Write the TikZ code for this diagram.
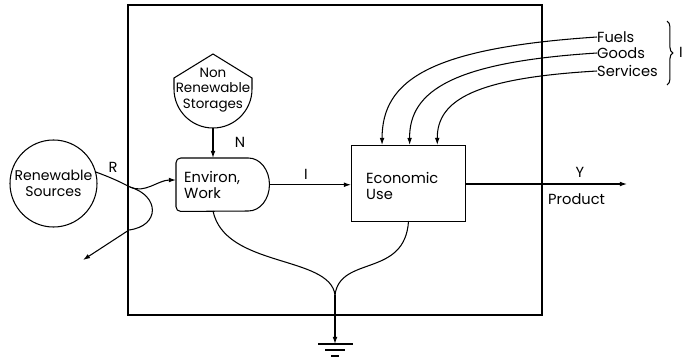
\documentclass[tikz,border=0pt]{standalone}
\usepackage{fontspec}
\setmainfont{Poppins}
\usetikzlibrary{arrows.meta,calc,decorations.pathreplacing}
\tikzset{
  flow/.style={line width=0.9pt,-{Latex[length=6pt,width=4pt]}},
  line/.style={line width=0.9pt},
  lbl/.style={font=\fontsize{12.5}{14}\selectfont, inner sep=0pt},
}
\begin{document}
\begin{tikzpicture}[x=0.03cm,y=-0.03cm]
  \useasboundingbox (0,0) rectangle (689,358);

  % System frame
  \draw[line width=2.2pt] (128,5) rectangle (542,315);

  % Renewable sources
  \node[circle, draw, line width=0.9pt, minimum size=2.61cm, lbl, font=\fontsize{12}{14}\selectfont, align=center] (ren) at (53.5,183.5) {Renewable\\Sources};

  % Non renewable storages (tank)
  \draw[line] (174,89) -- (174,78) -- (213,54) -- (252,78) -- (252,89)
    arc[start angle=0, end angle=180, radius=39] -- cycle;
  \node[lbl, font=\fontsize{11.5}{13.5}\selectfont, align=center] (nrs) at (213,90) {Non\\Renewable\\Storages};
  \coordinate (nrsbot) at (213,128);

  % Environmental work (D shape)
  \node[minimum width=2.16cm, minimum height=1.59cm, anchor=north west, inner sep=0pt] (env) at (176,158) {};
  \draw[line] (env.north east)
    arc[start angle=-90, end angle=90, x radius=21, y radius=26.5]
    [rounded corners=4pt] -- (env.south west) -- (env.north west) -- (env.north east);
  \coordinate (envtip) at ($(env.east)+(21,0)$);
  \node[lbl, align=left, anchor=west] (envtxt) at (184,185) {Environ,\\Work};

  % Economic use
  \node[draw, line width=0.9pt, minimum width=3.42cm, minimum height=2.28cm, anchor=north west, inner sep=0pt] (eco) at (351,145) {};
  \node[lbl, align=left, anchor=west] (ecotxt) at (366,186) {Economic\\Use};

  % Inputs from outside
  \node[lbl, anchor=west] (fuel) at (597,37) {Fuels};
  \node[lbl, anchor=west] (good) at (597,53) {Goods};
  \node[lbl, anchor=west] (serv) at (597,71) {Services};
  \draw[flow] (fuel.west) .. controls (430,48) and (382,80) .. ($(eco.north west)!0.27!(eco.north east)$);
  \draw[flow] (good.west) .. controls (455,62) and (409,90) .. ($(eco.north west)!0.51!(eco.north east)$);
  \draw[flow] (serv.west) .. controls (475,78) and (437,100) .. ($(eco.north west)!0.75!(eco.north east)$);
  \draw[line, decorate, decoration={brace, amplitude=5pt}] (667,21) -- (667,85);
  \node[lbl, anchor=west] (ilbl) at (679,52) {I};

  % Renewable inflow and its outflow branch
  \coordinate (split) at (130,187);
  \draw[line] (ren.15) .. controls (115,179) and (124,184) .. (split);
  \draw[flow] (split) .. controls (145,194) and (158,180) .. (env.west |- 0,180);
  \draw[flow] (split) .. controls (160,196) and (160,226) .. (129,230) -- (83,260);
  \node[lbl] (rlbl) at (113,167) {R};

  % Nonrenewable inflow
  \draw[flow] (nrsbot) -- (nrsbot |- env.north);
  \node[lbl] (nlbl) at (240,142) {N};

  % Flows between units
  \draw[flow] (envtip) -- (envtip -| eco.west);
  \node[lbl] (ilbl2) at (306,174) {I};
  \coordinate (out) at (627,184);
  \draw[flow] (eco.east |- out) -- (out);
  \node[lbl] (ylbl) at (580,172) {Y};
  \node[lbl, anchor=west] (prod) at (548,199) {Product};

  % Heat sink
  \coordinate (mrg) at (335,295);
  \coordinate (gnd) at (335,344);
  \draw[line] (213,211) .. controls (225,268) and (330,255) .. (mrg);
  \draw[line] (eco.south |- 0,221) .. controls (405,278) and (340,255) .. (mrg);
  \draw[flow] (mrg) -- (gnd);
  \draw[line] ($(gnd)+(-17,0)$) -- ($(gnd)+(18,0)$);
  \draw[line] ($(gnd)+(-10,6)$) -- ($(gnd)+(10,6)$);
  \draw[line] ($(gnd)+(-4,12)$) -- ($(gnd)+(4,12)$);
\end{tikzpicture}
\end{document}
